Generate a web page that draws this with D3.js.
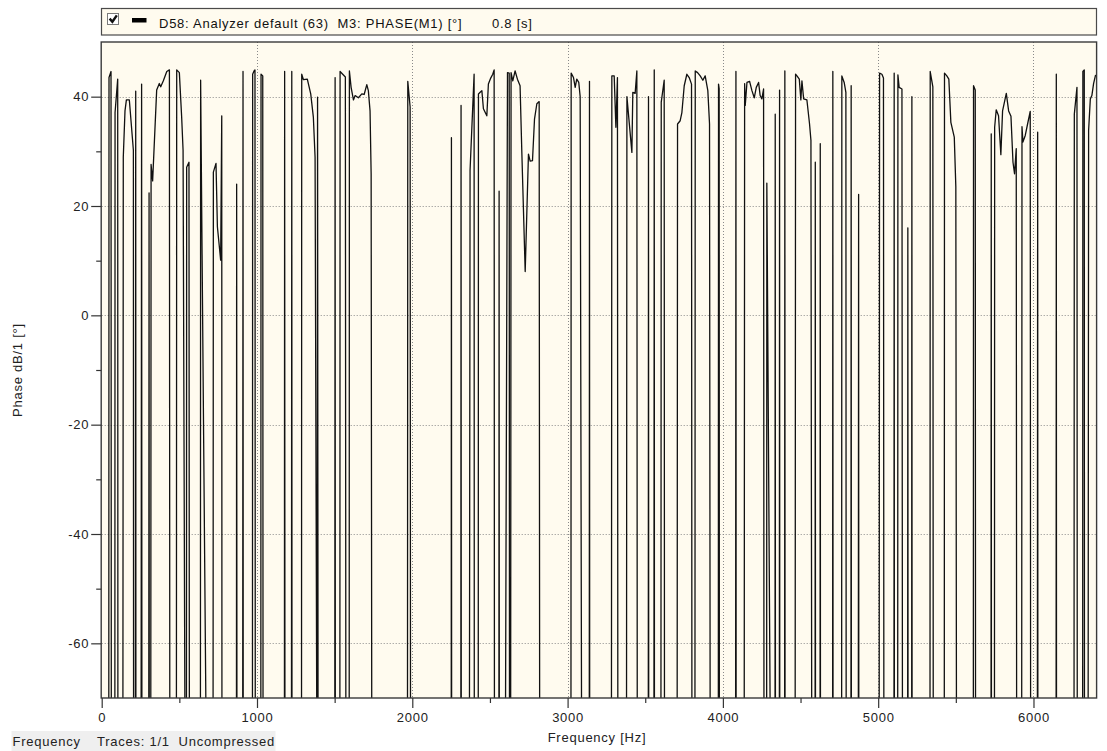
<!DOCTYPE html>
<html>
<head>
<meta charset="utf-8">
<script src="https://cdn.jsdelivr.net/npm/d3@7"></script>
<style>
  html, body { margin: 0; padding: 0; background: #ffffff; }
  svg { display: block; font-family: "Liberation Sans", Arial, sans-serif; }
  svg text { white-space: pre; }
</style>
</head>
<body>
<svg id="chart" width="1107" height="751"></svg>
<script>
// Phase trace of M3 (PHASE(M1)) against frequency; samples below -70° leave the plot.
const freqHz = [
  0, 45, 47, 60, 63, 84, 86, 103, 105, 135, 139, 150, 159, 178, 204, 206,
  216, 219, 221, 252, 257, 260, 302, 305, 307,
  315, 318, 328, 354, 371, 380, 397, 419, 436, 440,
  480, 483, 500, 515, 524, 536, 545, 547, 562, 566, 635, 637, 672,
  716, 719, 736, 745, 766, 773, 775, 867, 869, 872, 907, 910, 912,
  970, 972, 981, 987, 990, 1024, 1026, 1037, 1040, 1176, 1178, 1181, 1221, 1224, 1226,
  1286, 1288, 1299, 1324, 1346, 1363, 1374, 1385, 1387, 1390, 1395, 1500, 1503, 1505,
  1533, 1535, 1552, 1569, 1574,
  1593, 1595, 1606, 1621, 1632, 1653, 1675, 1690, 1707, 1717, 1728, 1735, 1739,
  1968, 1971, 1986, 1990, 2250, 2252, 2254, 2312, 2314, 2316, 2368, 2372, 2398, 2400,
  2424, 2426, 2437, 2448, 2458, 2480, 2490, 2505, 2518, 2527, 2530, 2557, 2559, 2561,
  2600, 2613, 2624, 2627,
  2632, 2636, 2647, 2662, 2677, 2694, 2705, 2727, 2748, 2759, 2774, 2787, 2802, 2817, 2822,
  3021, 3023, 3038, 3049, 3059, 3072, 3081, 3090, 3139, 3141, 3143,
  3281, 3285, 3300, 3311, 3321, 3325,
  3378, 3382, 3392, 3414, 3420, 3435, 3446, 3450, 3519, 3521, 3523, 3555, 3558, 3560,
  3600, 3603, 3622, 3625,
  3704, 3708, 3725, 3736, 3751, 3768, 3783, 3798, 3802,
  3819, 3822, 3837, 3854, 3871, 3886, 3903, 3914, 3918,
  3970, 3972, 3976, 3978, 4081, 4084, 4086,
  4136, 4140, 4144, 4155, 4172, 4187, 4202, 4215, 4230, 4240, 4251, 4262, 4266,
  4281, 4283, 4305, 4335, 4337, 4339, 4363, 4365, 4367, 4397, 4399, 4401,
  4464, 4468, 4477, 4492, 4502, 4509, 4520, 4541, 4558, 4567, 4572,
  4593, 4595, 4597, 4625, 4627, 4629, 4706, 4708, 4710,
  4764, 4766, 4781, 4792, 4795, 4824, 4826, 4828, 4871, 4874, 4876,
  5005, 5009, 5024, 5034, 5038, 5101, 5103, 5105,
  5125, 5127, 5135, 5153, 5158, 5189, 5191, 5193, 5215, 5217, 5219,
  5333, 5335, 5352, 5356,
  5425, 5427, 5442, 5455, 5468, 5490, 5500, 5504,
  5612, 5614, 5625, 5628, 5726, 5728, 5730,
  5748, 5750, 5760, 5775, 5790, 5801, 5825, 5840, 5855, 5868, 5878, 5889, 5893,
  5923, 5926, 5932, 5947, 5962, 5979, 5983, 6024, 6027, 6029, 6145, 6147, 6149,
  6260, 6263, 6280, 6283, 6316, 6318, 6327, 6329,
  6350, 6355, 6366, 6376, 6387, 6400
];
const phaseDeg = [
  -140, -140, 43.5, 44.6, -140, -140, 37.1, 43.2, -140, -140, 28.9, 37.4, 39.4, 39.4, 30.2, -140,
  -140, 41.0, -140, -140, 42.3, -140, -140, 22.4, -140,
  -140, 27.6, 24.6, 41.2, 42.4, 41.8, 42.9, 44.6, 44.9, -140,
  -140, 44.9, 44.4, 36.2, 30.2, -75, -140, 27.1, 28.0, -140, -140, 43.0, -75,
  -140, 26.2, 27.8, 16.2, 10.1, 36.5, -140, -140, 24.0, -140, -140, 44.6, -140,
  -140, 44.1, 44.7, 44.9, -140, -140, 44.1, 43.8, -140, -140, 44.6, -140, -140, 44.6, -140,
  -140, 44.1, 43.1, 43.2, 40.5, 36.2, 28.9, -75, -140, 39.9, -140, -140, 43.5, -140,
  -140, 44.6, 44.1, 43.6, -140,
  -140, 44.7, 41.7, 39.4, 40.2, 39.8, 40.5, 40.4, 42.2, 41.1, 37.4, 25.9, -75,
  -140, 42.8, 38.1, -140, -140, 32.5, -140, -140, 38.4, -140, -75, 26.5, 44.1, -140,
  -140, 40.5, 40.8, 41.1, 37.8, 36.5, 42.3, 43.4, 44.1, 44.9, -140, -140, 22.7, -140,
  -75, 44.4, 44.3, -140,
  -140, 44.4, 42.9, 44.7, 43.2, 42.0, 30.2, 8.0, 29.5, 28.2, 28.3, 35.9, 38.7, 39.1, -140,
  -140, 44.3, 43.5, 41.7, 43.2, 42.6, 40.0, -75, -140, 42.8, -140,
  -140, 43.8, 43.8, 34.4, 43.5, -140,
  -140, 40.0, 36.8, 29.8, 40.8, 40.6, 44.7, -140, -140, 40.0, -140, -140, 44.9, -140,
  -140, 39.0, 43.0, -140,
  -140, 35.0, 35.6, 37.1, 42.0, 44.1, 43.5, 42.3, -140,
  -140, 44.7, 44.4, 43.8, 43.0, 43.8, 41.1, 35.0, -75,
  -140, 42.3, 41.5, -140, -140, 44.6, -140,
  -140, 42.4, 38.4, 42.6, 42.8, 41.1, 39.8, 41.7, 42.6, 40.2, 39.6, 41.4, -140,
  -140, 24.2, -75, -140, 36.8, -140, -140, 41.2, -140, -140, 44.7, -140,
  -140, 44.1, 43.8, 43.2, 39.4, 42.9, 39.6, 39.4, 35.0, 32.0, -75,
  -140, 28.0, -140, -140, 31.4, -140, -140, 44.6, -140,
  -140, 43.8, 42.6, 40.8, -140, -140, 42.0, -140, -140, 22.1, -140,
  -140, 44.3, 44.1, 43.4, -140, -140, 44.3, -140,
  -140, 44.0, 41.7, 41.4, -140, -140, 16.0, -140, -140, 40.0, -140,
  -140, 44.6, 41.8, -140,
  -140, 44.3, 43.8, 43.2, 35.3, 32.6, 23.5, -75,
  -140, 42.0, 41.2, -140, -140, 33.2, -140,
  -140, 34.4, 37.6, 36.5, 29.4, 37.4, 40.6, 37.4, 36.4, 28.0, 25.9, 30.5, -140,
  -140, 34.5, 31.7, 32.9, 35.0, 37.3, -140, -140, 33.5, -140, -140, 44.1, -140,
  -140, 36.8, 41.7, -140, -140, 44.6, 44.9, -140,
  -140, 33.8, 39.6, 40.2, 42.4, 44.0
];

// Axis ticks
const xMajorTicks = [0, 1000, 2000, 3000, 4000, 5000, 6000];
const xMinorTicks = [500, 1500, 2500, 3500, 4500, 5500];
const yMajorTicks = [-60, -40, -20, 0, 20, 40];
const yMinorTicks = [-50, -30, -10, 10, 30];

const legendLabel = "D58: Analyzer default (63)  M3: PHASE(M1) [°]";
const legendTime = "0.8 [s]";
const xTitle = "Frequency [Hz]";
const yTitle = "Phase dB/1 [°]";
const statusLeft = "Frequency";
const statusRight = "Traces: 1/1  Uncompressed";

const FONT = 13;
const SPACING = 0.75;

const svg = d3.select("#chart");
const plot = { left: 101.7, right: 1095.6, top: 42, bottom: 698 };

const x = d3.scaleLinear().domain([0, 6400]).range([plot.left, plot.right]);
const y = d3.scaleLinear().domain([-70, 50]).range([plot.bottom, plot.top]);

// Plot background
svg.append("rect")
  .attr("x", plot.left).attr("y", plot.top)
  .attr("width", plot.right - plot.left + 1).attr("height", plot.bottom - plot.top)
  .attr("fill", "#fffbef");

// Dotted grid
const grid = svg.append("g").attr("stroke", "#8a8a8a").attr("stroke-width", 1)
  .attr("stroke-dasharray", "1,2");
grid.selectAll("line.gx").data(xMajorTicks.filter(d => d > 0)).join("line")
  .attr("x1", d => Math.round(x(d)) + 0.5).attr("x2", d => Math.round(x(d)) + 0.5)
  .attr("y1", plot.top).attr("y2", plot.bottom);
grid.selectAll("line.gy").data(yMajorTicks).join("line")
  .attr("x1", plot.left).attr("x2", plot.right)
  .attr("y1", d => Math.round(y(d)) + 0.5).attr("y2", d => Math.round(y(d)) + 0.5);

// Trace, clipped to the plot frame
svg.append("clipPath").attr("id", "plotClip").append("rect")
  .attr("x", plot.left).attr("y", plot.top)
  .attr("width", plot.right - plot.left + 1).attr("height", plot.bottom - plot.top);

const points = freqHz.map((f, i) => [f, phaseDeg[i]]);
const line = d3.line().x(d => x(d[0])).y(d => y(d[1]));
svg.append("path")
  .attr("clip-path", "url(#plotClip)")
  .attr("d", line(points))
  .attr("fill", "none")
  .attr("stroke", "#111")
  .attr("stroke-width", 1.3)
  .attr("stroke-linejoin", "round");

// Frame
svg.append("rect")
  .attr("x", plot.left - 0.5).attr("y", plot.top)
  .attr("width", plot.right - plot.left + 1.5).attr("height", plot.bottom - plot.top)
  .attr("fill", "none").attr("stroke", "#3a3a3a").attr("stroke-width", 1.4);

// Axes
function styleAxis(g) {
  g.select(".domain").remove();
  g.selectAll(".tick line").attr("stroke", "#333").attr("stroke-width", 1.2);
  g.selectAll(".tick text").attr("fill", "#222").attr("font-size", FONT)
    .attr("letter-spacing", SPACING)
    .attr("font-family", "'Liberation Sans', Arial, sans-serif");
}
const plain = d => String(d);
svg.append("g").attr("transform", `translate(0,${plot.bottom})`)
  .call(d3.axisBottom(x).tickValues(xMajorTicks).tickSize(10).tickPadding(5).tickFormat(plain))
  .call(styleAxis);
svg.append("g").attr("transform", `translate(0,${plot.bottom})`)
  .call(d3.axisBottom(x).tickValues(xMinorTicks).tickSize(5).tickFormat(""))
  .call(styleAxis);
svg.append("g").attr("transform", `translate(${plot.left - 0.5},0)`)
  .call(d3.axisLeft(y).tickValues(yMajorTicks).tickSize(10).tickPadding(2).tickFormat(plain))
  .call(styleAxis);
svg.append("g").attr("transform", `translate(${plot.left - 0.5},0)`)
  .call(d3.axisLeft(y).tickValues(yMinorTicks).tickSize(5).tickFormat(""))
  .call(styleAxis);

// Shared text helper
function label(parent, txt, attrs) {
  const t = parent.append("text").text(txt)
    .attr("font-size", FONT).attr("letter-spacing", SPACING).attr("fill", "#222");
  Object.entries(attrs).forEach(([k, v]) => t.attr(k, v));
  return t;
}

// Axis titles
label(svg, xTitle, { x: 597, y: 742, "text-anchor": "middle" });
label(svg, yTitle, { transform: "translate(22,370) rotate(-90)", "text-anchor": "middle" });

// Legend bar
const legend = svg.append("g");
legend.append("rect").attr("x", 101.5).attr("y", 8.5).attr("width", 995).attr("height", 26.5)
  .attr("fill", "#fffbef").attr("stroke", "#4a4a4a").attr("stroke-width", 1.2);
legend.append("rect").attr("x", 107.5).attr("y", 13.5).attr("width", 11).attr("height", 11)
  .attr("fill", "#ffffff").attr("stroke", "#7a7a7a").attr("stroke-width", 1);
legend.append("path").attr("d", "M109.6,18.6 L112.4,21.8 L116.8,15.4")
  .attr("fill", "none").attr("stroke", "#111").attr("stroke-width", 2.4);
legend.append("rect").attr("x", 132).attr("y", 18).attr("width", 14.5).attr("height", 4.5)
  .attr("fill", "#000");
label(legend, legendLabel, { x: 159, y: 27.5, fill: "#111" });
label(legend, legendTime, { x: 492, y: 27.5, fill: "#111" });

// Status strip
const status = svg.append("g");
status.append("rect").attr("x", 11.5).attr("y", 731).attr("width", 264).attr("height", 20)
  .attr("fill", "#efefef");
label(status, statusLeft, { x: 12.5, y: 746 });
label(status, statusRight, { x: 97, y: 746 });
</script>
</body>
</html>
